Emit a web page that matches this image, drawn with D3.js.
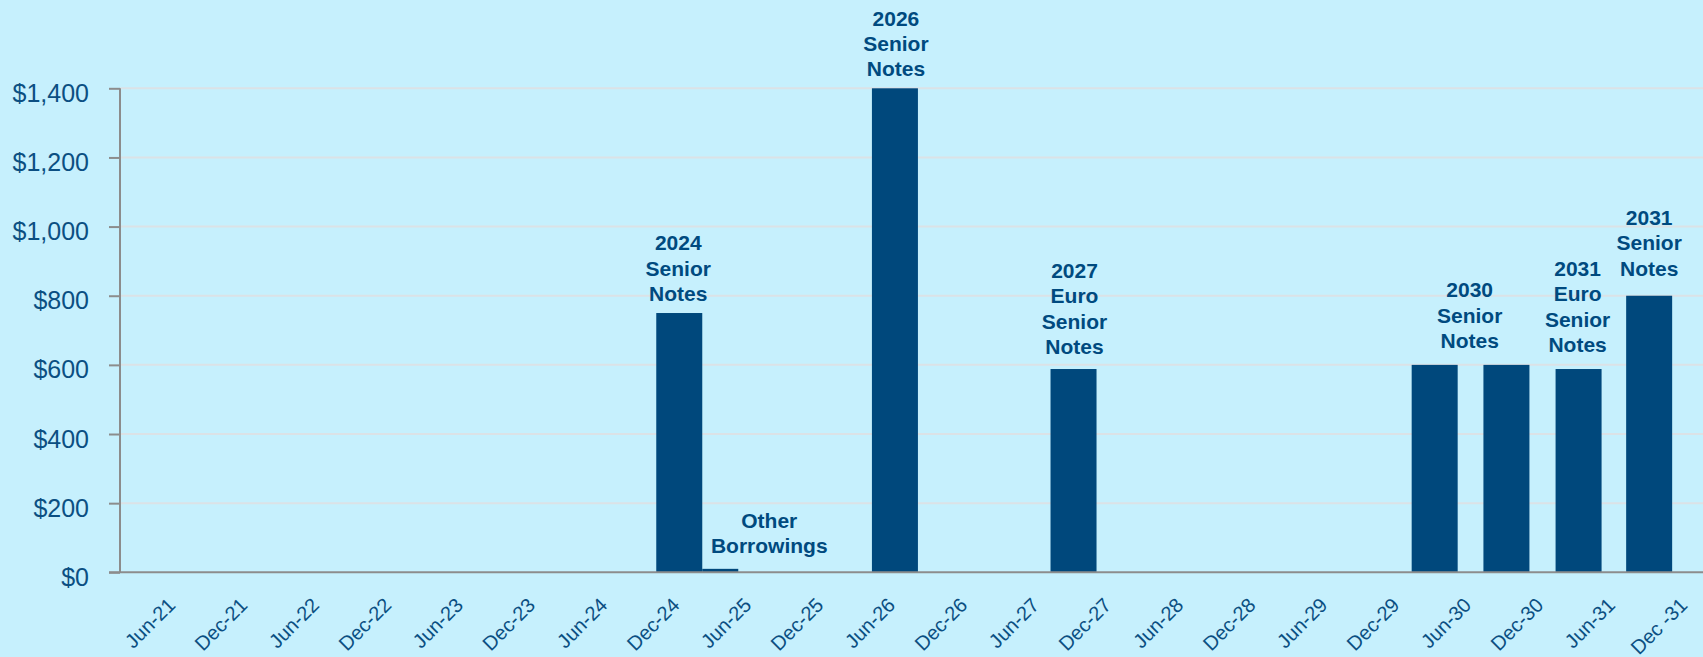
<!DOCTYPE html>
<html>
<head>
<meta charset="utf-8">
<script src="https://cdn.jsdelivr.net/npm/d3@7"></script>
<style>
  html, body { margin: 0; padding: 0; background: #c6f0fd; }
  svg { display: block; }
  text { font-family: Arial, "Liberation Sans", sans-serif; }
</style>
</head>
<body>
<svg id="chart" width="1703" height="657"></svg>
<script>
// ---- data ----
const tickLabels = ["Jun-21","Dec-21","Jun-22","Dec-22","Jun-23","Dec-23","Jun-24","Dec-24",
  "Jun-25","Dec-25","Jun-26","Dec-26","Jun-27","Dec-27","Jun-28","Dec-28","Jun-29","Dec-29",
  "Jun-30","Dec-30","Jun-31","Dec -31"];
const tickDates = ["2021-06-01","2021-12-01","2022-06-01","2022-12-01","2023-06-01","2023-12-01",
  "2024-06-01","2024-12-01","2025-06-01","2025-12-01","2026-06-01","2026-12-01","2027-06-01",
  "2027-12-01","2028-06-01","2028-12-01","2029-06-01","2029-12-01","2030-06-01","2030-12-01",
  "2031-06-01","2031-12-01"];
const maturityDates = ["2024-12-01","2025-03-15","2026-06-01","2027-08-28","2030-03-01","2030-08-30","2031-03-01","2031-08-27"];
const amounts = [750, 10, 1400, 588, 600, 600, 588, 800];
const seriesType = ["notes","other","notes","notes","notes","notes","notes","notes"];
const barLabels = [["2024","Senior","Notes"], ["Other","Borrowings"], ["2026","Senior","Notes"],
  ["2027","Euro","Senior","Notes"], ["2030","Senior","Notes"], null,
  ["2031","Euro","Senior","Notes"], ["2031","Senior","Notes"]];
const yTicks = [0, 200, 400, 600, 800, 1000, 1200, 1400];

// ---- layout ----
const W = 1703, H = 657;
const axisX = 120, axisY = 572.3, topY = 88.3;
const barColor = "#00487c", textColor = "#004a7f", tickTextColor = "#0b4f82";
const barWidth = {notes: 46, other: 36};
// label layout: horizontal shift from bar center, gap between last baseline and bar top
const labelLayout = [{dx: -1, gap: 12}, {dx: 49, gap: 16}, {dx: 1, gap: 12}, {dx: 1, gap: 15},
  {dx: 35, gap: 17}, null, {dx: -1, gap: 17}, {dx: 0, gap: 20}];
const lineH = 25.3;

const parse = d3.timeParse("%Y-%m-%d");
const svg = d3.select("#chart");

const x = d3.scaleTime()
  .domain([parse(tickDates[0]), parse(tickDates[tickDates.length - 1])])
  .range([175, 1687]);
const y = d3.scaleLinear().domain([0, 1400]).range([axisY, topY]);

// gridlines
svg.append("g").selectAll("line").data(yTicks.filter(d => d > 0)).join("line")
  .attr("x1", axisX).attr("x2", W)
  .attr("y1", d => y(d)).attr("y2", d => y(d))
  .attr("stroke", "#dbe2e6").attr("stroke-width", 2);

// bars
const bars = maturityDates.map((d, i) => ({date: parse(d), value: amounts[i], type: seriesType[i], label: barLabels[i], layout: labelLayout[i]}));
svg.append("g").selectAll("rect").data(bars).join("rect")
  .attr("x", d => x(d.date) - barWidth[d.type] / 2)
  .attr("width", d => barWidth[d.type])
  .attr("y", d => y(d.value))
  .attr("height", d => y(0) - y(d.value))
  .attr("fill", barColor);

// y axis
const yAxis = d3.axisLeft(y).tickValues(yTicks).tickSize(11).tickFormat(d => "$" + d3.format(",")(d));
const gy = svg.append("g").attr("transform", `translate(${axisX},0)`).call(yAxis);
gy.select(".domain").attr("stroke", "#8c8c8c").attr("stroke-width", 2).attr("d", `M0,${topY}V${axisY}`);
gy.selectAll(".tick line").attr("stroke", "#8c8c8c").attr("stroke-width", 2);
gy.selectAll(".tick text")
  .attr("x", -31).attr("dy", null).attr("y", 13)
  .attr("fill", tickTextColor).style("font-size", "25px")
  .style("font-family", "Arial, 'Liberation Sans', sans-serif");

// x axis line
svg.append("line").attr("x1", 109).attr("x2", W).attr("y1", axisY).attr("y2", axisY)
  .attr("stroke", "#8c8c8c").attr("stroke-width", 2);

// x tick labels
const xAxis = d3.axisBottom(x).tickValues(tickDates.map(parse)).tickSize(0)
  .tickFormat((d, i) => tickLabels[i]);
const gx = svg.append("g").attr("transform", `translate(0,${axisY})`).call(xAxis);
gx.select(".domain").remove();
gx.selectAll(".tick text")
  .attr("y", 0).attr("dy", null)
  .attr("text-anchor", "end")
  .attr("transform", "translate(1,34) rotate(-45)")
  .attr("fill", tickTextColor).style("font-size", "20px")
  .style("font-family", "Arial, 'Liberation Sans', sans-serif");

// bar labels
const lg = svg.append("g");
bars.filter(d => d.label).forEach(d => {
  const n = d.label.length;
  const cx = x(d.date) + d.layout.dx;
  const base = y(d.value) - d.layout.gap;
  const t = lg.append("text").attr("text-anchor", "middle")
    .attr("fill", textColor).style("font-size", "21px").style("font-weight", "bold");
  d.label.forEach((line, i) => {
    t.append("tspan").attr("x", cx).attr("y", base - (n - 1 - i) * lineH).text(line);
  });
});
</script>
</body>
</html>
